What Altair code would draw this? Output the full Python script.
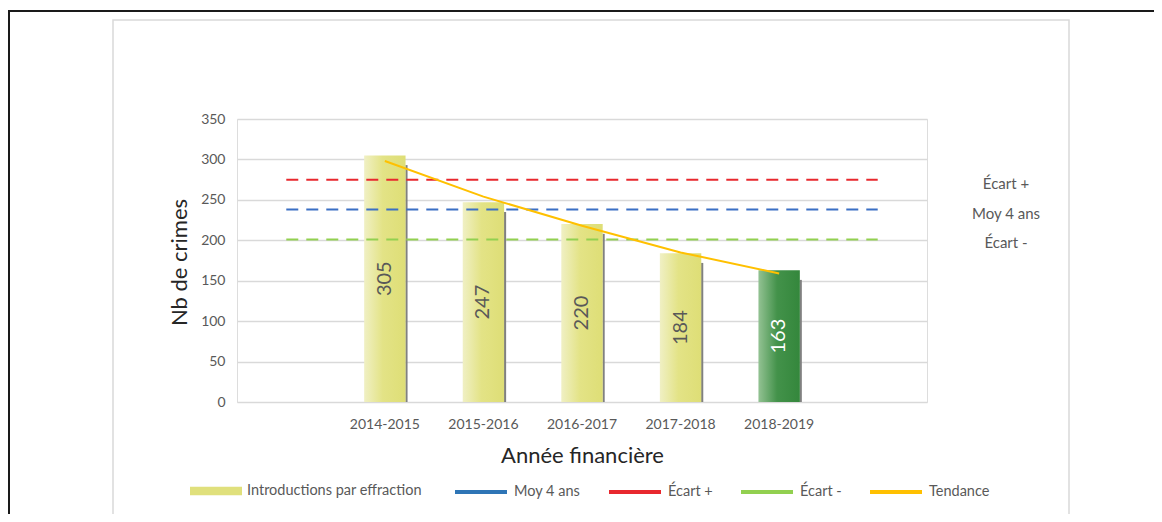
import altair as alt
import pandas as pd

# ---------------- data ----------------
categories = [" ", "2014-2015", "2015-2016", "2016-2017", "2017-2018", "2018-2019", "  "]
years = ["2014-2015", "2015-2016", "2016-2017", "2017-2018", "2018-2019"]
crimes = [305, 247, 220, 184, 163]
trend = [298, 254, 218, 185, 159]
ref_names = ["Écart +", "Moy 4 ans", "Écart -"]
ref_values = [275, 238, 201]
ref_colors = ["#e8282e", "#3a6fc4", "#92d050"]
y_ticks = [0, 50, 100, 150, 200, 250, 300, 350]
bar_legend_name = ["Introductions par effraction"]
bar_legend_color = ["#e0e07c"]
line_legend_names = ["Moy 4 ans", "Écart +", "Écart -", "Tendance"]
line_legend_colors = ["#2e75b6", "#e8282e", "#92d050", "#ffc000"]
current_year = years[-1]

bars_df = pd.DataFrame({"cat": years, "value": crimes})
trend_df = pd.DataFrame({"cat": years, "value": trend})
ref_df = pd.DataFrame(
    [{"serie": n, "cat": c, "value": v}
     for n, v in zip(ref_names, ref_values)
     for c in (categories[0], categories[-1])]
)
ref_lbl_df = pd.DataFrame({"serie": ref_names, "value": ref_values})

FONT = "Lato"
GREY_TXT = "#595959"

x_scale = alt.Scale(domain=categories, paddingInner=0.58, paddingOuter=0.29)
y_scale = alt.Scale(domain=[0, 350], nice=False)

x_axis = alt.Axis(
    title="Année financière", labelAngle=0, ticks=False, domain=False, grid=False,
    labelFontSize=14, labelColor=GREY_TXT, labelPadding=15, labelFont=FONT,
    titleFontSize=22, titleFontWeight="normal", titleColor="#262626", titleFont=FONT,
    titleX=345, titleY=60, titleBaseline="alphabetic",
)
y_axis = alt.Axis(
    title="Nb de crimes", values=y_ticks, ticks=False, domain=False, grid=True,
    gridColor="#d9d9d9", gridWidth=1.5,
    labelFontSize=14, labelColor=GREY_TXT, labelPadding=12, labelFont=FONT,
    titleFontSize=22, titleFontWeight="normal", titleColor="#262626", titleFont=FONT,
    titleX=-51, titleY=143, titleBaseline="alphabetic",
)

X = alt.X("cat:N", scale=x_scale, axis=x_axis, sort=categories)

def Y(field):
    return alt.Y(f"{field}:Q", scale=y_scale, axis=y_axis)

# ---------------- decoration (frame) ----------------
one = alt.Data(values=[{}])
frame_top = alt.Chart(one).mark_rule(color="#1a1a1a", strokeWidth=2).encode(
    x=alt.value(-229), x2=alt.value(920), y=alt.value(-108))
frame_left = alt.Chart(one).mark_rule(color="#1a1a1a", strokeWidth=2).encode(
    x=alt.value(-228), y=alt.value(-108), y2=alt.value(420))
inner_box = alt.Chart(one).mark_rect(filled=False, stroke="#d9d9d9", strokeWidth=1.5).encode(
    x=alt.value(-124), x2=alt.value(832), y=alt.value(-99), y2=alt.value(430))

# ---------------- data layers ----------------
yellow_grad = alt.Gradient(
    gradient="linear", x1=0, x2=1, y1=0, y2=0,
    stops=[alt.GradientStop(color="#f0f0c4", offset=0),
           alt.GradientStop(color="#e3e386", offset=0.45),
           alt.GradientStop(color="#dede76", offset=1)])
green_grad = alt.Gradient(
    gradient="linear", x1=0, x2=1, y1=0, y2=0,
    stops=[alt.GradientStop(color="#93c293", offset=0),
           alt.GradientStop(color="#43924a", offset=0.45),
           alt.GradientStop(color="#34873c", offset=1)])

base_bars = alt.Chart(bars_df)

shadow = base_bars.transform_calculate(stop="datum.value - 12").mark_rule(
    color="#808080", strokeWidth=2.2, xOffset=21.6
).encode(x=X, y=Y("stop"), y2=alt.datum(0))

bars_y = base_bars.transform_filter(alt.datum.cat != current_year).mark_bar(
    color=yellow_grad).encode(x=X, y=Y("value"))
bars_g = base_bars.transform_filter(alt.datum.cat == current_year).mark_bar(
    color=green_grad).encode(x=X, y=Y("value"))

bar_labels = base_bars.transform_calculate(mid="datum.value / 2").mark_text(
    angle=270, fontSize=20, font=FONT, align="center", baseline="middle"
).encode(
    x=X, y=Y("mid"), text=alt.Text("value:Q"),
    color=alt.condition(alt.datum.cat == current_year, alt.value("#ffffff"), alt.value(GREY_TXT)),
)

ref_lines = alt.Chart(ref_df).mark_line(strokeDash=[12, 8], strokeWidth=2).encode(
    x=X, y=Y("value"),
    color=alt.Color("serie:N", scale=alt.Scale(domain=ref_names, range=ref_colors), legend=None),
    detail="serie:N",
)

trend_line = alt.Chart(trend_df).mark_line(color="#ffc000", strokeWidth=2).encode(
    x=X, y=Y("value"))

ref_labels = alt.Chart(ref_lbl_df).mark_text(
    fontSize=15, font=FONT, color=GREY_TXT, align="center", baseline="middle", dy=4
).encode(x=alt.value(769), y=Y("value"), text="serie:N")

# ---------------- legends (empty layers, scales with explicit domains) ----------------
common_leg = dict(
    title=None, orient="none", direction="horizontal", labelOffset=5,
    columnPadding=20, labelFontSize=14.5, labelColor=GREY_TXT, labelFont=FONT, padding=0,
    labelLimit=0,
)
bar_legend_layer = alt.Chart(pd.DataFrame({"serie": bar_legend_name})).transform_filter(
    "false").mark_bar().encode(
    fill=alt.Fill("serie:N", scale=alt.Scale(domain=bar_legend_name, range=bar_legend_color),
                  legend=alt.Legend(legendX=-47, legendY=346, symbolType="M-1,-0.16H1V0.16H-1Z",
                                    symbolSize=2704, symbolStrokeWidth=0, **common_leg)),
)
line_legend_layer = alt.Chart(pd.DataFrame({"serie": line_legend_names})).transform_filter(
    "false").mark_line().encode(
    stroke=alt.Stroke("serie:N", scale=alt.Scale(domain=line_legend_names, range=line_legend_colors),
                      legend=alt.Legend(legendX=216, legendY=345, symbolType="stroke",
                                        symbolSize=2704, symbolStrokeWidth=4, **common_leg)),
)

chart = alt.layer(
    frame_top, frame_left, inner_box,
    shadow, bars_y, bars_g, bar_labels, ref_lines, trend_line, ref_labels,
    bar_legend_layer, line_legend_layer,
).resolve_scale(color="independent", fill="independent", stroke="independent").properties(
    width=690, height=283,
    autosize=alt.AutoSizeParams(type="none"),
    padding={"left": 229, "top": 111, "right": 227, "bottom": 112},
).configure_view(
    stroke="#c4c4c4", strokeWidth=2
).configure(font=FONT, background="white")

chart.save("out.html", embed_options={"renderer": "svg", "actions": False})
